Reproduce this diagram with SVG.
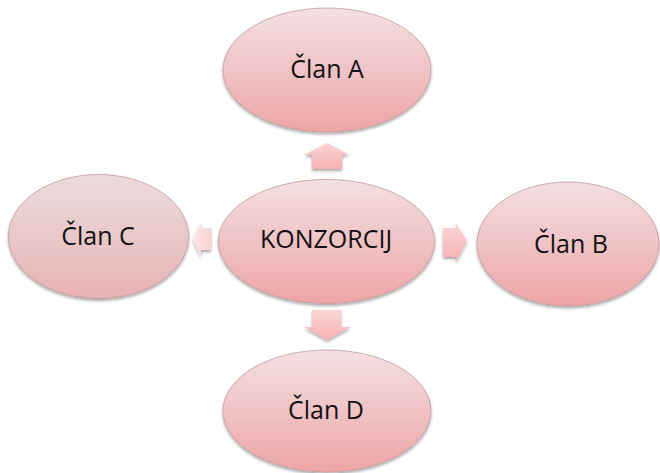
<svg xmlns="http://www.w3.org/2000/svg" width="660" height="473" viewBox="0 0 660 473">
<defs>
<linearGradient id="eg" x1="0" y1="0" x2="0" y2="1">
<stop offset="0" stop-color="#f3e0e1"/>
<stop offset="0.5" stop-color="#f0c3c5"/>
<stop offset="1" stop-color="#eea4a6"/>
</linearGradient>
<linearGradient id="eg2" x1="0" y1="0" x2="0" y2="1">
<stop offset="0" stop-color="#ebdcdd"/>
<stop offset="0.5" stop-color="#e9c8c9"/>
<stop offset="1" stop-color="#e9b1b2"/>
</linearGradient>
<linearGradient id="ag" x1="0" y1="0" x2="0" y2="1">
<stop offset="0" stop-color="#fcd6d6"/>
<stop offset="1" stop-color="#f6b0b1"/>
</linearGradient>
<linearGradient id="agl" x1="0" y1="0" x2="1" y2="0">
<stop offset="0" stop-color="#fde6e6"/>
<stop offset="1" stop-color="#fbd3d4"/>
</linearGradient>
<filter id="sh" x="-10%" y="-10%" width="120%" height="130%">
<feGaussianBlur in="SourceAlpha" stdDeviation="1.5"/>
<feOffset dx="0" dy="2" result="b"/>
<feComponentTransfer><feFuncA type="linear" slope="0.35"/></feComponentTransfer>
<feMerge><feMergeNode/><feMergeNode in="SourceGraphic"/></feMerge>
</filter>
</defs>
<style>
.node ellipse{fill:url(#eg);stroke:#c39b9d;stroke-width:0.8;filter:url(#sh)}
.node text{font-family:"Open Sans","Liberation Sans",sans-serif;font-size:25px;fill:#111;text-anchor:middle}
.arr{fill:url(#ag);filter:url(#sh)}
</style>
<rect width="660" height="473" fill="#ffffff"/>
<g id="connectors">
<polygon class="arr" points="304,155 327,143 350,155 342,155 342,169 312,169 312,155"/>
<polygon class="arr" points="312,310 341,310 341,327 351,327 327,340 304,327 312,327"/>
<polygon class="arr" style="fill:url(#agl)" points="211,228 211,250 201,250 201,257 193,239 201,222 201,228"/>
<polygon class="arr" points="443,228 456,228 456,223 467,241 456,262 456,257 443,257"/>
</g>
<g id="node-a" class="node">
<ellipse cx="327" cy="70" rx="104" ry="62"/>
<text x="327" y="78">Član A</text>
</g>
<g id="node-center" class="node">
<ellipse cx="326.5" cy="241.5" rx="108" ry="62"/>
<text x="326" y="248">KONZORCIJ</text>
</g>
<g id="node-c" class="node">
<ellipse cx="98.5" cy="236.5" rx="90" ry="62" style="fill:url(#eg2)"/>
<text x="98" y="245">Član C</text>
</g>
<g id="node-b" class="node">
<ellipse cx="568" cy="244" rx="91" ry="62"/>
<text x="571" y="253">Član B</text>
</g>
<g id="node-d" class="node">
<ellipse cx="327" cy="411" rx="104" ry="61"/>
<text x="326" y="419">Član D</text>
</g>
</svg>
